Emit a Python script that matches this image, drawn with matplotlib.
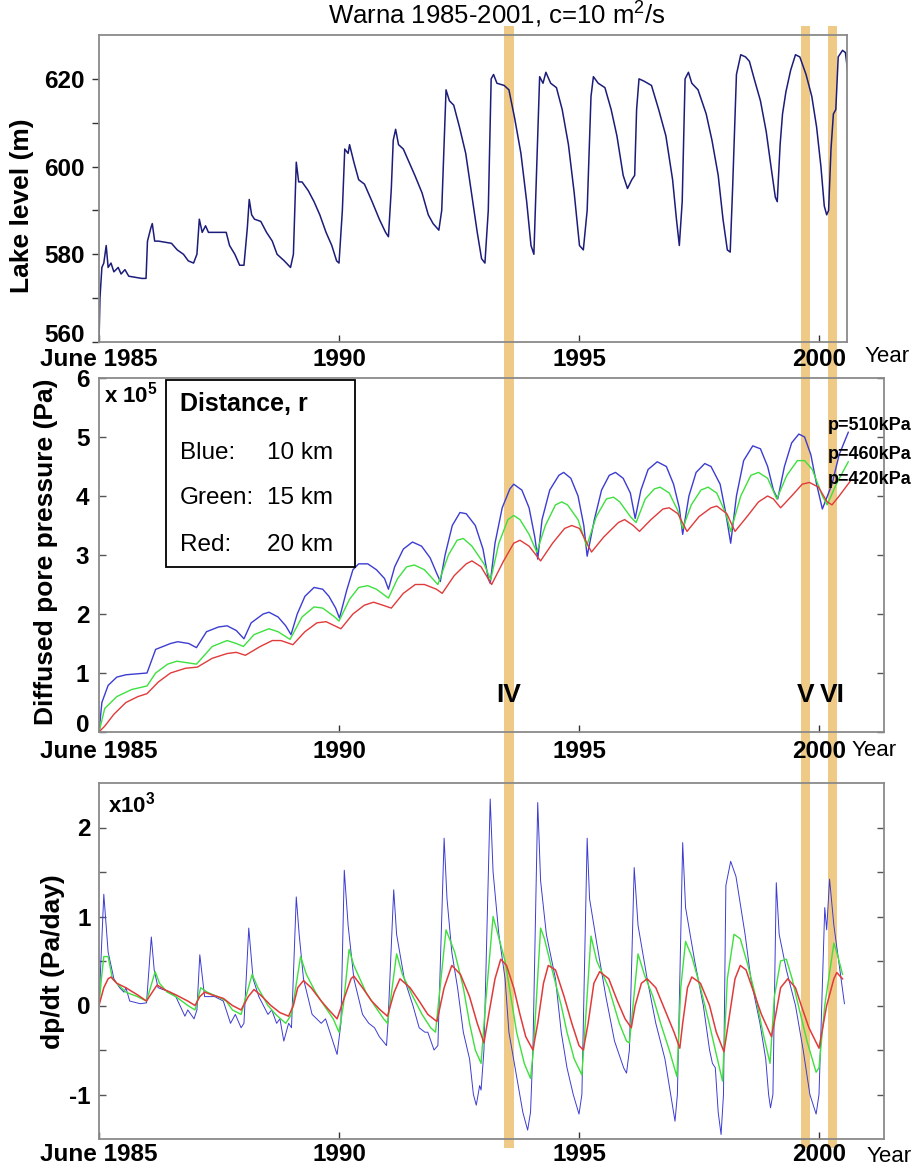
import numpy as np
import matplotlib
matplotlib.use('Agg')
from matplotlib import pyplot as plt
from matplotlib import transforms
from matplotlib.patches import Rectangle

plt.rcParams['font.family'] = ['Liberation Sans', 'DejaVu Sans']
plt.rcParams['mathtext.fontset'] = 'custom'
plt.rcParams['mathtext.rm'] = 'Liberation Sans'
plt.rcParams['mathtext.bf'] = 'Liberation Sans:bold'

########################################################################################
# time axis: years since June 1985
tick_pos = [0, 5, 10, 15]
tick_lab = ['June 1985', '1990', '1995', '2000']

# event bands IV, V, VI (years since June 1985)
event_t = [8.54, 14.72, 15.28]
event_lab = ['IV', 'V', 'VI']

# lake level (m)
lake = np.array([
    (0.00, 560), (0.02, 570), (0.06, 577), (0.10, 578), (0.15, 582), (0.19, 577),
    (0.25, 578), (0.31, 576), (0.40, 577), (0.46, 575.5), (0.54, 576.5), (0.62, 575),
    (0.89, 574.5), (0.98, 574.5), (1.01, 583), (1.08, 586), (1.11, 587), (1.16, 583),
    (1.24, 583), (1.51, 582.5), (1.63, 581), (1.76, 580), (1.86, 578.5), (1.97, 578),
    (2.04, 580), (2.09, 588), (2.15, 585), (2.22, 586.5), (2.28, 585), (2.65, 585),
    (2.72, 582), (2.83, 580), (2.93, 577.5), (3.02, 577.5), (3.09, 586), (3.13, 592.5),
    (3.18, 589), (3.24, 588), (3.37, 587.5), (3.49, 585), (3.61, 583), (3.71, 580),
    (3.86, 578.5), (3.99, 577), (4.05, 580), (4.11, 601), (4.16, 596.5), (4.23, 596.5),
    (4.36, 594.5), (4.48, 592), (4.60, 589), (4.73, 585), (4.85, 582), (4.95, 578.5),
    (5.00, 578), (5.07, 590), (5.12, 604), (5.19, 603), (5.22, 605), (5.31, 601),
    (5.41, 597), (5.53, 596), (5.69, 592), (5.84, 588), (5.97, 585), (6.03, 584),
    (6.09, 595), (6.13, 606), (6.18, 608.5), (6.24, 605), (6.34, 604), (6.46, 601),
    (6.58, 598), (6.73, 594), (6.86, 589), (6.96, 587), (7.08, 585.5), (7.14, 590),
    (7.23, 617.5), (7.30, 615), (7.39, 614), (7.51, 609), (7.64, 603), (7.76, 594),
    (7.88, 585), (7.97, 579), (8.04, 578), (8.11, 590), (8.17, 620), (8.22, 621),
    (8.29, 619), (8.44, 618.5), (8.54, 617.5), (8.66, 611), (8.79, 603), (8.91, 592),
    (9.00, 582), (9.06, 580), (9.12, 600), (9.18, 620.5), (9.25, 619), (9.31, 621.5),
    (9.41, 619), (9.53, 618), (9.65, 613), (9.78, 605), (9.90, 594), (10.01, 582),
    (10.09, 581), (10.17, 590), (10.25, 616), (10.30, 620.5), (10.40, 619), (10.54, 618),
    (10.67, 613), (10.79, 607), (10.92, 598), (11.01, 595), (11.10, 597), (11.16, 598),
    (11.20, 613), (11.25, 620), (11.35, 619.5), (11.51, 618.5), (11.66, 613), (11.81, 607),
    (11.95, 597), (12.03, 588), (12.09, 582), (12.15, 592), (12.21, 620), (12.28, 621.5),
    (12.35, 619), (12.48, 617.5), (12.65, 612), (12.77, 606), (12.90, 598), (13.00, 588),
    (13.09, 581), (13.15, 580.5), (13.20, 595), (13.28, 621), (13.37, 625.5), (13.47, 625),
    (13.55, 624), (13.65, 620), (13.78, 615), (13.90, 608), (14.00, 600), (14.09, 593),
    (14.13, 592), (14.19, 605), (14.24, 612), (14.31, 617), (14.41, 622), (14.51, 625.5),
    (14.60, 625), (14.73, 621), (14.85, 616), (14.95, 609), (15.04, 600), (15.11, 591),
    (15.16, 589), (15.20, 590), (15.25, 604), (15.30, 612), (15.35, 613), (15.40, 625),
    (15.49, 626.5), (15.55, 626), (15.60, 621.5)])

# diffused pore pressure (x 1e5 Pa)
p_blue = np.array([
    (0, 0), (0.06, 0.5), (0.19, 0.79), (0.37, 0.93), (0.56, 0.97), (1.00, 1.0),
    (1.09, 1.2), (1.18, 1.4), (1.49, 1.5), (1.64, 1.53), (1.87, 1.5), (2.03, 1.43),
    (2.24, 1.7), (2.49, 1.78), (2.67, 1.8), (2.86, 1.72), (3.02, 1.58), (3.17, 1.85),
    (3.42, 2.0), (3.54, 2.03), (3.73, 1.95), (3.89, 1.8), (4.00, 1.65), (4.13, 2.0),
    (4.29, 2.3), (4.48, 2.45), (4.66, 2.42), (4.79, 2.3), (4.93, 2.1), (5.01, 1.93),
    (5.16, 2.4), (5.29, 2.75), (5.41, 2.85), (5.60, 2.85), (5.78, 2.75), (5.95, 2.6),
    (6.03, 2.42), (6.16, 2.8), (6.34, 3.1), (6.53, 3.22), (6.72, 3.15), (6.90, 2.95),
    (7.03, 2.7), (7.11, 2.55), (7.21, 3.0), (7.36, 3.5), (7.52, 3.72), (7.65, 3.7),
    (7.84, 3.5), (8.00, 3.1), (8.11, 2.6), (8.15, 2.52), (8.25, 3.2), (8.40, 3.8),
    (8.56, 4.12), (8.64, 4.2), (8.81, 4.1), (8.96, 3.8), (9.08, 3.3), (9.14, 2.93),
    (9.23, 3.6), (9.39, 4.1), (9.58, 4.35), (9.68, 4.4), (9.83, 4.3), (9.98, 4.0),
    (10.10, 3.5), (10.17, 2.98), (10.32, 3.6), (10.47, 4.1), (10.63, 4.35), (10.76, 4.4),
    (10.92, 4.3), (11.07, 4.05), (11.17, 3.62), (11.29, 4.1), (11.44, 4.45), (11.63, 4.58),
    (11.82, 4.5), (11.97, 4.2), (12.09, 3.8), (12.16, 3.35), (12.29, 4.0), (12.44, 4.4),
    (12.62, 4.55), (12.75, 4.5), (12.94, 4.2), (13.06, 3.7), (13.16, 3.2), (13.28, 4.0),
    (13.43, 4.6), (13.62, 4.85), (13.78, 4.8), (13.93, 4.5), (14.05, 4.1), (14.14, 3.95),
    (14.28, 4.5), (14.43, 4.9), (14.58, 5.05), (14.70, 5.0), (14.83, 4.7), (14.95, 4.2),
    (15.07, 3.78), (15.27, 4.2), (15.42, 4.7), (15.61, 5.08)])

p_green = np.array([
    (0, 0), (0.12, 0.4), (0.37, 0.6), (0.68, 0.72), (1.00, 0.78), (1.18, 1.0),
    (1.43, 1.15), (1.62, 1.2), (1.87, 1.17), (2.03, 1.15), (2.36, 1.45), (2.67, 1.55),
    (2.86, 1.5), (3.01, 1.45), (3.23, 1.65), (3.54, 1.75), (3.73, 1.7), (3.98, 1.57),
    (4.23, 1.95), (4.48, 2.12), (4.66, 2.1), (4.91, 1.95), (5.00, 1.88), (5.22, 2.25),
    (5.41, 2.45), (5.60, 2.48), (5.78, 2.42), (6.03, 2.27), (6.22, 2.6), (6.41, 2.8),
    (6.57, 2.83), (6.78, 2.75), (7.06, 2.5), (7.28, 3.0), (7.46, 3.25), (7.59, 3.28),
    (7.77, 3.15), (8.02, 2.85), (8.16, 2.58), (8.33, 3.2), (8.52, 3.6), (8.64, 3.67),
    (8.77, 3.6), (8.96, 3.35), (9.12, 3.05), (9.30, 3.5), (9.51, 3.85), (9.64, 3.9),
    (9.76, 3.85), (9.98, 3.6), (10.16, 3.15), (10.36, 3.65), (10.57, 3.95), (10.72, 3.98),
    (10.85, 3.9), (11.07, 3.65), (11.19, 3.55), (11.38, 3.95), (11.57, 4.12), (11.69, 4.15),
    (11.88, 4.05), (12.06, 3.75), (12.16, 3.45), (12.34, 3.85), (12.54, 4.1), (12.69, 4.15),
    (12.87, 4.05), (13.06, 3.7), (13.16, 3.4), (13.37, 4.0), (13.58, 4.35), (13.74, 4.4),
    (13.93, 4.3), (14.12, 3.95), (14.33, 4.35), (14.55, 4.6), (14.70, 4.6), (14.86, 4.45),
    (15.07, 4.0), (15.17, 3.85), (15.36, 4.2), (15.61, 4.58)])

p_red = np.array([
    (0, 0), (0.12, 0.1), (0.31, 0.3), (0.56, 0.5), (0.81, 0.6), (1.00, 0.65),
    (1.24, 0.85), (1.49, 1.0), (1.80, 1.08), (2.05, 1.1), (2.36, 1.25), (2.67, 1.33),
    (2.86, 1.35), (3.05, 1.3), (3.36, 1.45), (3.61, 1.55), (3.79, 1.55), (4.04, 1.48),
    (4.29, 1.7), (4.54, 1.85), (4.73, 1.87), (4.91, 1.8), (5.04, 1.75), (5.29, 2.0),
    (5.53, 2.15), (5.72, 2.2), (5.91, 2.15), (6.09, 2.1), (6.34, 2.35), (6.59, 2.5),
    (6.78, 2.5), (7.03, 2.42), (7.15, 2.35), (7.40, 2.65), (7.65, 2.85), (7.77, 2.9),
    (7.96, 2.8), (8.18, 2.5), (8.43, 2.9), (8.64, 3.2), (8.77, 3.25), (8.96, 3.15),
    (9.20, 2.9), (9.45, 3.2), (9.70, 3.45), (9.85, 3.5), (10.01, 3.45), (10.26, 3.05),
    (10.51, 3.3), (10.82, 3.55), (10.95, 3.6), (11.13, 3.5), (11.26, 3.4), (11.50, 3.6),
    (11.75, 3.78), (11.88, 3.8), (12.06, 3.7), (12.25, 3.4), (12.50, 3.65), (12.75, 3.8),
    (12.87, 3.83), (13.08, 3.7), (13.25, 3.4), (13.50, 3.65), (13.74, 3.9), (13.93, 4.0),
    (14.05, 3.95), (14.20, 3.8), (14.43, 4.0), (14.65, 4.2), (14.80, 4.23), (14.99, 4.15),
    (15.17, 3.9), (15.27, 3.85), (15.42, 4.0), (15.65, 4.25)])

# dp/dt (x 1e3 Pa/day)
d_blue = np.array([
    (0, 0), (0.10, 1.25), (0.19, 0.6), (0.31, 0.3), (0.43, 0.2), (0.52, 0.15),
    (0.56, 0.2), (0.64, 0.05), (0.86, 0.02), (0.99, 0.03), (1.09, 0.77), (1.15, 0.4),
    (1.23, 0.2), (1.48, 0.15), (1.60, 0.1), (1.73, -0.05), (1.79, -0.12), (1.85, -0.05),
    (1.98, -0.15), (2.04, -0.05), (2.10, 0.57), (2.20, 0.1), (2.41, 0.1), (2.59, 0.05),
    (2.74, -0.2), (2.84, -0.1), (2.96, -0.25), (3.02, -0.2), (3.12, 0.87), (3.21, 0.3),
    (3.33, 0.1), (3.52, -0.1), (3.60, -0.05), (3.70, -0.2), (3.77, -0.15), (3.85, -0.4),
    (3.95, -0.2), (4.01, -0.25), (4.11, 1.22), (4.17, 0.8), (4.26, 0.3), (4.44, -0.1),
    (4.63, -0.2), (4.72, -0.15), (4.81, -0.3), (4.96, -0.55), (5.04, -0.2), (5.11, 1.52),
    (5.19, 0.9), (5.31, 0.3), (5.49, -0.1), (5.62, -0.2), (5.74, -0.25), (5.84, -0.35),
    (5.99, -0.45), (6.02, -0.2), (6.14, 1.3), (6.20, 0.8), (6.36, 0.3), (6.54, 0.0),
    (6.67, -0.25), (6.79, -0.3), (6.85, -0.3), (6.98, -0.5), (7.06, -0.45), (7.19, 1.88),
    (7.25, 1.2), (7.35, 0.6), (7.47, 0.2), (7.59, -0.3), (7.72, -0.6), (7.80, -1.0),
    (7.86, -1.12), (7.93, -0.9), (7.96, -0.95), (8.02, -0.5), (8.15, 2.32), (8.21, 1.5),
    (8.33, 0.8), (8.46, 0.3), (8.54, -0.3), (8.70, -0.8), (8.83, -1.2), (8.93, -1.4),
    (8.99, -1.2), (9.04, -0.5), (9.14, 2.28), (9.20, 1.4), (9.32, 0.8), (9.51, 0.3),
    (9.63, -0.3), (9.75, -0.7), (9.88, -1.0), (10.00, -1.22), (10.06, -1.0), (10.17, 1.88),
    (10.22, 1.2), (10.37, 0.7), (10.56, 0.1), (10.74, -0.4), (10.93, -0.7), (10.99, -0.76),
    (11.05, -0.5), (11.15, 1.55), (11.23, 0.9), (11.42, 0.3), (11.60, -0.2), (11.79, -0.6),
    (11.91, -1.0), (12.00, -1.3), (12.05, -1.0), (12.16, 1.83), (12.22, 1.1), (12.41, 0.5),
    (12.59, 0.0), (12.72, -0.5), (12.78, -0.65), (12.84, -0.7), (12.90, -1.2), (12.96, -1.45),
    (13.01, -1.0), (13.06, 1.35), (13.16, 1.62), (13.27, 1.45), (13.46, 0.8), (13.58, 0.3),
    (13.77, -0.2), (13.89, -0.6), (13.95, -1.0), (13.99, -1.15), (14.04, -1.0), (14.11, 1.38),
    (14.17, 0.8), (14.32, 0.4), (14.51, 0.0), (14.67, -0.5), (14.81, -1.0), (14.94, -1.22),
    (15.00, -1.0), (15.12, 1.1), (15.16, 0.85), (15.22, 1.42), (15.31, 0.9), (15.41, 0.5),
    (15.53, 0.02)])

d_green = np.array([
    (0, 0), (0.05, 0.3), (0.10, 0.55), (0.19, 0.55), (0.28, 0.3), (0.37, 0.25),
    (0.56, 0.15), (0.80, 0.1), (0.99, 0.05), (1.17, 0.38), (1.26, 0.25), (1.42, 0.15),
    (1.60, 0.1), (1.85, 0.0), (2.00, -0.05), (2.12, 0.2), (2.25, 0.15), (2.47, 0.1),
    (2.65, 0.05), (2.78, -0.05), (2.96, -0.1), (3.19, 0.35), (3.31, 0.2), (3.52, 0.0),
    (3.68, -0.1), (3.89, -0.2), (4.01, -0.1), (4.20, 0.55), (4.32, 0.35), (4.51, 0.15),
    (4.69, 0.0), (4.88, -0.15), (5.00, -0.3), (5.09, 0.0), (5.21, 0.63), (5.31, 0.45),
    (5.56, 0.15), (5.74, 0.0), (5.93, -0.15), (6.01, -0.2), (6.20, 0.58), (6.32, 0.35),
    (6.54, 0.1), (6.73, -0.1), (6.91, -0.25), (7.01, -0.3), (7.23, 0.85), (7.41, 0.6),
    (7.59, 0.2), (7.72, -0.2), (7.84, -0.5), (7.96, -0.65), (8.05, 0.0), (8.21, 1.0),
    (8.31, 0.8), (8.46, 0.5), (8.58, 0.1), (8.70, -0.3), (8.86, -0.65), (8.99, -0.82),
    (9.05, -0.5), (9.20, 0.87), (9.28, 0.75), (9.44, 0.4), (9.63, 0.0), (9.75, -0.3),
    (9.90, -0.6), (10.06, -0.78), (10.12, -0.3), (10.25, 0.78), (10.37, 0.5), (10.62, 0.2),
    (10.84, -0.2), (10.99, -0.4), (11.05, -0.42), (11.23, 0.58), (11.36, 0.35), (11.54, 0.1),
    (11.70, -0.2), (11.88, -0.5), (12.04, -0.8), (12.12, 0.2), (12.22, 0.72), (12.35, 0.55),
    (12.53, 0.2), (12.69, -0.15), (12.84, -0.5), (12.99, -0.85), (13.09, 0.3), (13.23, 0.8),
    (13.36, 0.75), (13.52, 0.45), (13.68, 0.1), (13.83, -0.3), (13.98, -0.65), (14.07, 0.1),
    (14.20, 0.5), (14.32, 0.52), (14.44, 0.3), (14.57, 0.0), (14.75, -0.4), (14.94, -0.75),
    (15.00, -0.7), (15.12, 0.0), (15.31, 0.7), (15.37, 0.6), (15.49, 0.35)])

d_red = np.array([
    (0, 0), (0.10, 0.2), (0.19, 0.3), (0.25, 0.32), (0.37, 0.25), (0.56, 0.2),
    (0.80, 0.12), (0.99, 0.05), (1.11, 0.15), (1.21, 0.23), (1.36, 0.18), (1.60, 0.12),
    (1.85, 0.05), (2.00, 0.0), (2.10, 0.1), (2.20, 0.15), (2.35, 0.12), (2.59, 0.08),
    (2.78, 0.0), (2.96, -0.05), (3.11, 0.1), (3.23, 0.18), (3.40, 0.1), (3.58, 0.0),
    (3.77, -0.08), (3.95, -0.12), (4.05, 0.0), (4.14, 0.2), (4.26, 0.28), (4.42, 0.2),
    (4.63, 0.05), (4.79, -0.05), (4.96, -0.15), (5.12, 0.1), (5.25, 0.3), (5.31, 0.33),
    (5.49, 0.2), (5.68, 0.05), (5.86, -0.05), (6.01, -0.12), (6.15, 0.15), (6.27, 0.3),
    (6.48, 0.2), (6.67, 0.05), (6.85, -0.1), (7.04, -0.18), (7.19, 0.2), (7.35, 0.45),
    (7.53, 0.35), (7.72, 0.1), (7.88, -0.2), (8.02, -0.42), (8.12, -0.1), (8.25, 0.3),
    (8.37, 0.52), (8.49, 0.45), (8.64, 0.2), (8.77, -0.1), (8.89, -0.35), (9.04, -0.5),
    (9.14, -0.2), (9.26, 0.25), (9.36, 0.45), (9.51, 0.4), (9.69, 0.1), (9.85, -0.2),
    (10.00, -0.45), (10.09, -0.5), (10.19, -0.2), (10.31, 0.25), (10.43, 0.38), (10.62, 0.3),
    (10.80, 0.05), (10.96, -0.15), (11.09, -0.25), (11.17, 0.0), (11.30, 0.25), (11.42, 0.3),
    (11.60, 0.2), (11.79, -0.05), (11.98, -0.3), (12.10, -0.48), (12.16, -0.2), (12.26, 0.2),
    (12.35, 0.32), (12.53, 0.25), (12.72, 0.0), (12.86, -0.3), (13.02, -0.52), (13.11, -0.2),
    (13.25, 0.3), (13.36, 0.45), (13.48, 0.4), (13.64, 0.15), (13.80, -0.1), (14.01, -0.35),
    (14.10, -0.1), (14.20, 0.2), (14.35, 0.3), (14.51, 0.2), (14.63, 0.0), (14.79, -0.25),
    (15.00, -0.48), (15.06, -0.3), (15.16, 0.0), (15.31, 0.3), (15.37, 0.37), (15.49, 0.3)])

########################################################################################
W, H = 922.0, 1170.0
px_per_year = 48.0

def box(l, t, r, b):
    return [l / W, 1 - b / H, (r - l) / W, (b - t) / H]

fig = plt.figure(figsize=(9.22, 11.70), dpi=100)
ax1 = fig.add_axes(box(99, 35, 847, 342))
ax2 = fig.add_axes(box(99, 378, 884, 732))
ax3 = fig.add_axes(box(99, 783, 884, 1139))

c_navy = '#1c1c7a'
c_blue = '#3c3cd2'
c_green = '#3ee03e'
c_red = '#e03a3a'
band = '#efca86'
spine = '#8a8a8a'

for ax, right in [(ax1, 847), (ax2, 884), (ax3, 884)]:
    ax.set_facecolor('none')
    ax.set_xlim(0, (right - 99) / px_per_year)
    for s in ax.spines.values():
        s.set_color(spine)
        s.set_linewidth(1.3)
    ax.set_xticks(tick_pos)
    ax.set_xticklabels(tick_lab, fontsize=17.5, fontweight='bold')
    ax.tick_params(axis='x', direction='in', length=5, width=1, color='#333333')

# top: lake level
ax1.plot(lake[:, 0], lake[:, 1], color=c_navy, lw=1.1)
ax1.set_ylim(560, 630)
ax1.set_yticks([560, 580, 600, 620])
ax1.set_yticklabels(['560', '580', '600', '620'], fontsize=17.5, fontweight='bold')
ax1.set_yticks([570, 590, 610], minor=True)
ax1.tick_params(axis='y', which='both', direction='out', length=5, width=1, pad=5, color='#333333')
ax1.tick_params(axis='x', pad=4)
ax1.get_yticklabels()[0].set_va('baseline')

# middle: pore pressure
ax2.plot(p_blue[:, 0], p_blue[:, 1], color=c_blue, lw=1.0)
ax2.plot(p_green[:, 0], p_green[:, 1], color=c_green, lw=1.0)
ax2.plot(p_red[:, 0], p_red[:, 1], color=c_red, lw=1.0)
ax2.set_ylim(0, 6)
ax2.set_yticks(range(7))
ax2.set_yticklabels([str(i) for i in range(7)], fontsize=17.5, fontweight='bold')
ax2.tick_params(axis='y', direction='in', length=5, width=1, pad=7, right=True, color='#555555')
ax2.tick_params(axis='x', pad=6)
ax2.get_yticklabels()[0].set_va('baseline')

# bottom: dp/dt
ax3.plot(d_blue[:, 0], d_blue[:, 1], color=c_blue, lw=0.7)
ax3.plot(d_green[:, 0], d_green[:, 1], color=c_green, lw=1.0)
ax3.plot(d_red[:, 0], d_red[:, 1], color=c_red, lw=1.1)
ax3.set_ylim(-1.5, 2.5)
ax3.set_yticks([-1, 0, 1, 2])
ax3.set_yticklabels(['-1', '0', '1', '2'], fontsize=17.5, fontweight='bold')
ax3.set_yticks([-0.5, 0.5, 1.5], minor=True)
ax3.tick_params(axis='y', which='both', direction='in', length=5, width=1, pad=6, right=True, color='#555555')
ax3.tick_params(axis='x', pad=3)

# event bands spanning the whole figure
trans = transforms.blended_transform_factory(ax3.transData, fig.transFigure)
for t in event_t:
    fig.add_artist(Rectangle((t - 0.1, 0.019), 0.2, 0.959, transform=trans,
                             facecolor=band, edgecolor='none', zorder=-1))

# texts
fig.text(497 / W, 1 - 14 / H, 'Warna 1985-2001, c=10 m$^2$/s', ha='center', va='center', fontsize=18.5)
fig.text(22 / W, 1 - 206 / H, 'Lake level (m)', rotation=90, ha='center', va='center',
         fontsize=19, fontweight='bold')
fig.text(46 / W, 1 - 552 / H, 'Diffused pore pressure (Pa)', rotation=90, ha='center', va='center',
         fontsize=19, fontweight='bold')
fig.text(53 / W, 1 - 962 / H, 'dp/dt (Pa/day)', rotation=90, ha='center', va='center',
         fontsize=19, fontweight='bold')
for x, y in [(865, 357), (852, 750), (867, 1157)]:
    fig.text(x / W, 1 - y / H, 'Year', ha='left', va='center', fontsize=16)

ax2.text(0.006, 0.952, r'x 10$^{\mathbf{5}}$', transform=ax2.transAxes, ha='left', va='center',
         fontsize=16, fontweight='bold')
ax3.text(0.011, 0.94, r'x10$^{\mathbf{3}}$', transform=ax3.transAxes, ha='left', va='center',
         fontsize=16, fontweight='bold')

ax2.add_patch(Rectangle((0.0854, 0.466), 0.2408, 0.528, transform=ax2.transAxes,
                        fill=False, edgecolor='black', lw=1.3, zorder=6))
ax2.text(0.103, 0.927, 'Distance, r', transform=ax2.transAxes, ha='left', va='center',
         fontsize=18, fontweight='bold')
for y, name, dist in [(0.788, 'Blue:', '10 km'), (0.661, 'Green:', '15 km'), (0.528, 'Red:', '20 km')]:
    ax2.text(0.103, y, name, transform=ax2.transAxes, ha='left', va='center', fontsize=17.5)
    ax2.text(0.214, y, dist, transform=ax2.transAxes, ha='left', va='center', fontsize=17.5)

for t, lab in zip(event_t, event_lab):
    ax2.text(t, 0.63, lab, ha='center', va='center', fontsize=19, fontweight='bold')

for y, lab in [(425, 'p=510kPa'), (455, 'p=460kPa'), (480, 'p=420kPa')]:
    fig.text(828 / W, 1 - y / H, lab, ha='left', va='center', fontsize=13, fontweight='bold')

fig.savefig('out.png', dpi=100)
